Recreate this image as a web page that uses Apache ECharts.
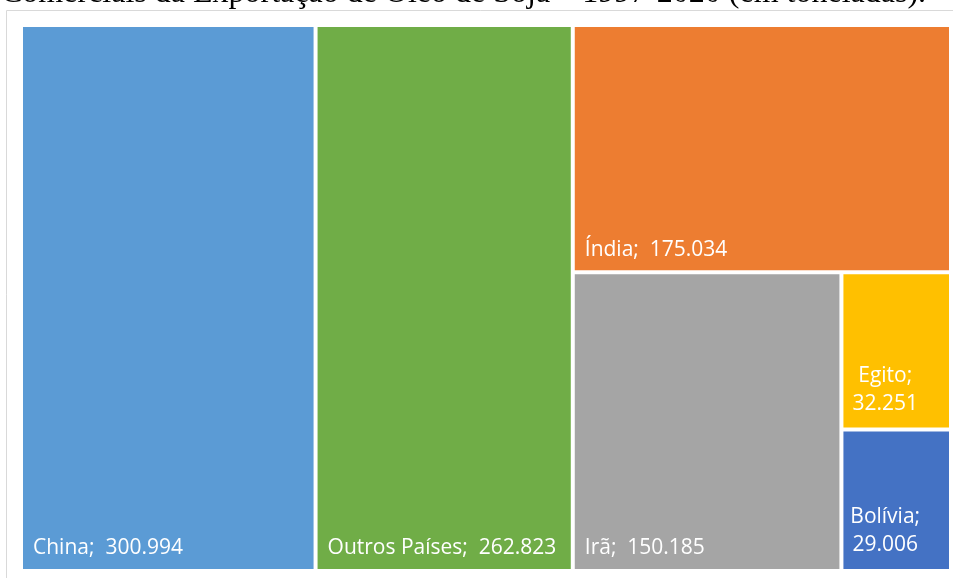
<!DOCTYPE html>
<html>
<head>
<meta charset="utf-8">
<script src="https://cdn.jsdelivr.net/npm/echarts@6/dist/echarts.min.js"></script>
<style>
  html, body { margin: 0; padding: 0; background: #fff; }
  #chart { width: 953px; height: 578px; }
</style>
</head>
<body>
<div id="chart"></div>
<script>
// Soybean oil exports by destination, 1997-2020 (tonnes)
const countries = ['China', 'Outros Países', 'Índia', 'Irã', 'Egito', 'Bolívia'];
const tonnes = [300994, 262823, 175034, 150185, 32251, 29006];
const colors = ['#5B9BD5', '#70AD47', '#ED7D31', '#A5A5A5', '#FFC000', '#4472C4'];
const titleText = 'Comerciais da Exportação de Óleo de Soja – 1997-2020 (em toneladas).';

// pt-BR thousands separator
function fmt(v) {
  return v.toLocaleString('pt-BR');
}

// Narrow cells wrap the label onto two centred lines
const narrow = ['Egito', 'Bolívia'];

function leaf(i) {
  const item = {
    name: countries[i],
    value: tonnes[i],
    itemStyle: { color: colors[i] }
  };
  if (narrow.includes(countries[i])) {
    item.label = {
      position: 'insideBottom',
      align: 'center',
      offset: [-11, 0],
      lineHeight: 28,
      formatter: p => p.name + ';\n' + fmt(p.value)
    };
  }
  return item;
}

// The two largest destinations get full-height columns; the rest share
// the remaining column, kept in data order.
const restIdx = [2, 3, 4, 5];
const restTotal = restIdx.reduce((s, i) => s + tonnes[i], 0);
const data = [
  leaf(0),
  leaf(1),
  {
    name: 'rest',
    value: restTotal,
    itemStyle: { borderWidth: 0, gapWidth: 4, borderColor: '#fff' },
    children: restIdx.map(leaf)
  }
];

const chart = echarts.init(document.getElementById('chart'), null, { renderer: 'canvas' });

chart.setOption({
  animation: false,
  graphic: [
    {
      type: 'rect',
      shape: { x: 6.5, y: 10.5, width: 960, height: 580 },
      style: { fill: 'none', stroke: '#d9d9d9', lineWidth: 1 },
      silent: true
    },
    {
      type: 'text',
      style: {
        x: 1,
        y: 10,
        text: titleText,
        font: '32px "Liberation Serif", "Times New Roman", serif',
        lineHeight: 32,
        verticalAlign: 'bottom',
        fill: '#000'
      },
      silent: true
    }
  ],
  series: [{
    type: 'treemap',
    left: 23,
    top: 27,
    width: 926,
    height: 542,
    roam: false,
    nodeClick: false,
    breadcrumb: { show: false },
    squareRatio: 1,
    sort: false,
    itemStyle: { gapWidth: 4, borderWidth: 0, borderColor: '#fff' },
    levels: [
      { itemStyle: { gapWidth: 4, borderWidth: 0, borderColor: '#fff' } },
      { itemStyle: { gapWidth: 4, borderWidth: 0, borderColor: '#fff' } },
      { itemStyle: { gapWidth: 4, borderWidth: 0, borderColor: '#fff' } }
    ],
    label: {
      show: true,
      position: 'insideBottomLeft',
      distance: 5,
      color: '#fff',
      fontFamily: '"Open Sans", "Noto Sans", sans-serif',
      fontSize: 21,
      formatter: p => p.name + ';  ' + fmt(p.value)
    },
    data: data
  }]
});
</script>
</body>
</html>
